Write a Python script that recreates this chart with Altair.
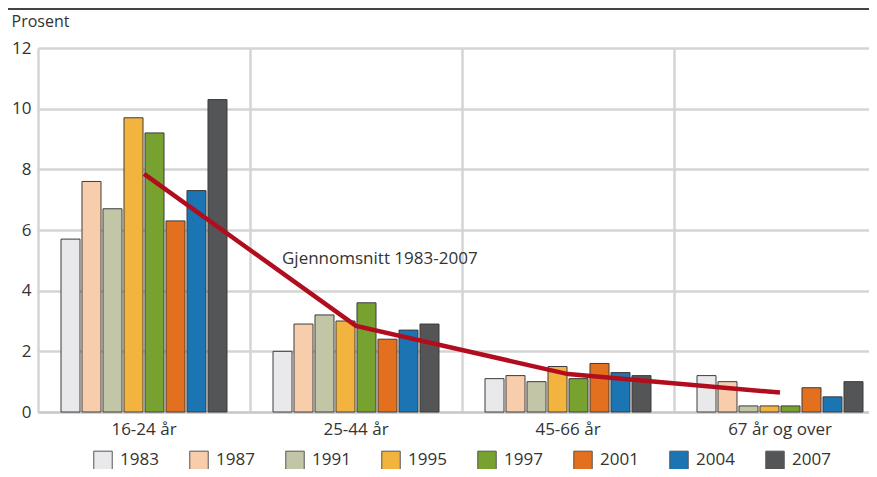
import altair as alt
import pandas as pd

groups = ["16-24 år", "25-44 år", "45-66 år", "67 år og over"]
years = ["1983", "1987", "1991", "1995", "1997", "2001", "2004", "2007"]
values = {
    "1983": [5.7, 2.0, 1.1, 1.2],
    "1987": [7.6, 2.9, 1.2, 1.0],
    "1991": [6.7, 3.2, 1.0, 0.2],
    "1995": [9.7, 3.0, 1.5, 0.2],
    "1997": [9.2, 3.6, 1.1, 0.2],
    "2001": [6.3, 2.4, 1.6, 0.8],
    "2004": [7.3, 2.7, 1.3, 0.5],
    "2007": [10.3, 2.9, 1.2, 1.0],
}
average = [7.85, 2.84, 1.25, 0.64]
colors = ["#e9e9eb", "#f8cdab", "#c3c6a6", "#f3b33f", "#78a22f", "#e3701e", "#1a75b2", "#545557"]

rows = []
for y in years:
    for g, v in zip(groups, values[y]):
        rows.append({"group": g, "year": y, "value": v})
df = pd.DataFrame(rows)
avg_df = pd.DataFrame({"group": groups, "avg": average})
note_df = pd.DataFrame({"group": ["25-44 år"], "y": [5.05], "label": ["Gjennomsnitt 1983-2007"]})

FONT = "Open Sans"
W, H = 831, 364
FULLW = 848

xscale = alt.Scale(domain=groups, range=[0, FULLW], paddingInner=0, paddingOuter=0)
yscale = alt.Scale(domain=[0, 12])

bars = alt.Chart(df).mark_bar(stroke="#3c3c3c", strokeWidth=1).encode(
    x=alt.X("group:N", scale=xscale, sort=groups,
            axis=alt.Axis(title=None, labelAngle=0, labelFont=FONT, labelFontSize=17,
                          labelColor="#333333", labelPadding=9, ticks=False,
                          domain=True, domainColor="#c8c8c8", domainWidth=2,
                          grid=True, gridColor="#d4d4d4", gridWidth=2.5, bandPosition=0)),
    xOffset=alt.XOffset("year:N", sort=years,
                        scale=alt.Scale(range=[23, 189], paddingInner=0.095, paddingOuter=0)),
    y=alt.Y("value:Q", scale=yscale,
            axis=alt.Axis(values=[0, 2, 4, 6, 8, 10, 12], title="Prosent", titleAngle=0,
                          titleAlign="left", titleBaseline="alphabetic", titleX=-27, titleY=-22,
                          titleFont=FONT, titleFontSize=16, titleFontWeight="normal",
                          titleColor="#333333", labelFont=FONT, labelFontSize=17,
                          labelColor="#333333", labelPadding=7, ticks=False, domain=False,
                          grid=True, gridColor="#d4d4d4", gridWidth=2.5)),
    fill=alt.Fill("year:N", sort=years, scale=alt.Scale(domain=years, range=colors),
                  legend=alt.Legend(title=None, orient="none", direction="horizontal",
                                    columns=8, legendX=55, legendY=402,
                                    symbolType="square", symbolSize=340,
                                    symbolStrokeColor="#555555", symbolStrokeWidth=1,
                                    labelFont=FONT, labelFontSize=17, labelColor="#333333",
                                    labelOffset=7, columnPadding=28)),
)

line = alt.Chart(avg_df).mark_line(color="#b20d1f", strokeWidth=4.5).encode(
    x=alt.X("group:N", scale=xscale, sort=groups),
    y=alt.Y("avg:Q", scale=yscale),
)

note = alt.Chart(note_df).mark_text(align="left", baseline="middle", font=FONT, fontSize=17,
                                    color="#333333", dx=-74).encode(
    x=alt.X("group:N", scale=xscale, sort=groups),
    y=alt.Y("y:Q", scale=yscale),
    text="label:N",
)

topline = alt.Chart(pd.DataFrame({"a": [0]})).mark_rule(color="#444444", strokeWidth=2).encode(
    x=alt.value(-31), x2=alt.value(FULLW + 10), y=alt.value(-39),
)

chart = alt.layer(bars, line, note, topline).properties(
    width=W, height=H,
    autosize=alt.AutoSizeParams(type="none"),
    padding={"left": 30, "top": 40, "right": 0, "bottom": 57},
).configure_view(stroke=None)

chart.save("out.html", embed_options={"renderer": "svg", "actions": False})
